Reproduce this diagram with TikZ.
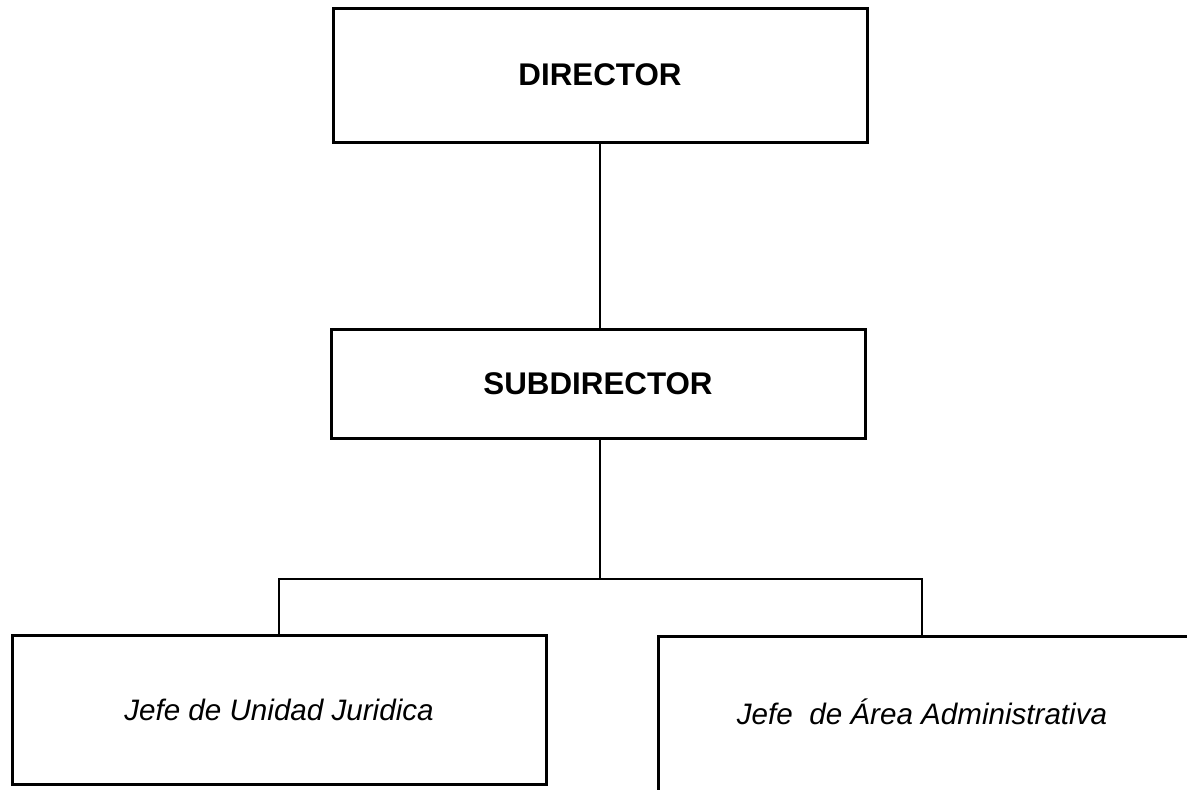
\documentclass[tikz,border=0pt]{standalone}
\usepackage{fontspec}
\setmainfont{Liberation Sans}
\begin{document}
\begin{tikzpicture}[x=0.75pt,y=-0.75pt,
  box/.style={draw=black, line width=2.25pt, rectangle, inner sep=0pt},
  conn/.style={draw=black, line width=1.5pt},
  boldtxt/.style={font=\fontsize{23.5pt}{28pt}\selectfont\bfseries},
  itxt/.style={font=\fontsize{22.2pt}{26pt}\selectfont\itshape}]
\useasboundingbox (0,0) rectangle (1187,789);
\clip (0,0) rectangle (1187,789);
\fill[white] (0,0) rectangle (1187,789);

\node[box, boldtxt, minimum width=534*0.75pt, minimum height=134*0.75pt] (dir) at (600,75) {DIRECTOR};
\node[box, boldtxt, minimum width=534*0.75pt, minimum height=109*0.75pt] (sub) at (598,383.5) {SUBDIRECTOR};
\node[box, itxt, minimum width=534*0.75pt, minimum height=149*0.75pt] (jur) at (279,709.5) {Jefe de Unidad Juridica};
\node[box, anchor=north west, minimum width=580*0.75pt, minimum height=180*0.75pt] (adm) at (657,635) {};
\node[itxt, inner sep=0pt] (admtext) at (922,712) {Jefe\ \ de Área Administrativa};

\coordinate (bar) at (600,579);
\draw[conn] (dir.south) -- (dir.south |- sub.north);
\draw[conn] (sub.south -| bar) -- (bar);
\draw[conn] (jur.north) |- (bar) -| (admtext |- adm.north);
\end{tikzpicture}
\end{document}
